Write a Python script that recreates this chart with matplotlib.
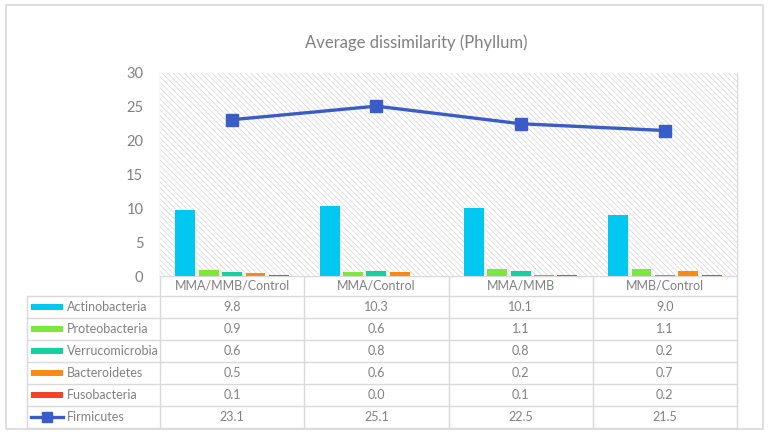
import matplotlib
matplotlib.use("Agg")
import matplotlib.pyplot as plt
from matplotlib.patches import Rectangle
from matplotlib.lines import Line2D
import numpy as np

categories = ["MMA/MMB/Control", "MMA/Control", "MMA/MMB", "MMB/Control"]
bar_series = ["Actinobacteria", "Proteobacteria", "Verrucomicrobia", "Bacteroidetes", "Fusobacteria"]
actinobacteria = [9.8, 10.3, 10.1, 9.0]
proteobacteria = [0.9, 0.6, 1.1, 1.1]
verrucomicrobia = [0.6, 0.8, 0.8, 0.2]
bacteroidetes = [0.5, 0.6, 0.2, 0.7]
fusobacteria = [0.1, 0.0, 0.1, 0.2]
firmicutes = [23.1, 25.1, 22.5, 21.5]
line_series = "Firmicutes"
yticks = [0, 5, 10, 15, 20, 25, 30]
title = "Average dissimilarity (Phyllum)"

bar_values = [actinobacteria, proteobacteria, verrucomicrobia, bacteroidetes, fusobacteria]
bar_colors = ["#00C8F0", "#7CE83C", "#14D2A0", "#FF8A12", "#F04424"]
line_color = "#3A5CC8"
grid_c = "#D9D9D9"
text_c = "#808080"

plt.rcParams['font.family'] = ['Lato', 'DejaVu Sans']
plt.rcParams['hatch.color'] = '#D4D4D4'
plt.rcParams['hatch.linewidth'] = 0.5

W, H = 768, 433
fig = plt.figure(figsize=(W / 100, H / 100), dpi=100)

def px_rect(l, t, r, b):
    return [l / W, 1 - b / H, (r - l) / W, (b - t) / H]

ov = fig.add_axes([0, 0, 1, 1])
ov.set_xlim(0, W)
ov.set_ylim(H, 0)
ov.axis('off')
ov.add_patch(Rectangle((6, 5), 757, 424, fill=False, edgecolor=grid_c, lw=1.2))

L, R, T, B = 160, 737, 73, 276
ax = fig.add_axes(px_rect(L, T, R, B))
ax.set_xlim(-0.5, len(categories) - 0.5)
ax.set_ylim(0, 30)
ax.set_facecolor('white')
for s in ax.spines.values():
    s.set_visible(False)
ax.add_patch(Rectangle((0, 0), 1, 1, transform=ax.transAxes, facecolor='white',
                       hatch='\\' * 6, edgecolor='#D4D4D4', lw=0, zorder=0))
ax.set_xticks([])
ax.set_yticks(yticks)
ax.tick_params(axis='y', length=0, pad=12, labelsize=10.5, labelcolor=text_c)

x = np.arange(len(categories))
bw = 0.138
step = 0.162
n = len(bar_series)
for i, (vals, col) in enumerate(zip(bar_values, bar_colors)):
    ax.bar(x + (i - (n - 1) / 2) * step, vals, width=bw, color=col, zorder=3)
ax.plot(x, firmicutes, color=line_color, lw=2.4, marker='s', markersize=8.5, zorder=4)

fig.text(416 / W, 1 - 43 / H, title, ha='center', va='center', fontsize=12,
         color=text_c)

col_edges = [L + (R - L) * k / len(categories) for k in range(len(categories) + 1)]
tab_left = 27
row_edges = [276, 296, 318, 340, 362, 384, 406, 428]
for xe in col_edges:
    ov.plot([xe, xe], [T, row_edges[-1]], color=grid_c, lw=1.0, zorder=1)
ov.plot([tab_left, tab_left], [row_edges[1], row_edges[-1]], color=grid_c, lw=1.0)
ov.plot([L, R], [row_edges[0], row_edges[0]], color=grid_c, lw=1.0)
for ye in row_edges[1:]:
    ov.plot([tab_left, R], [ye, ye], color=grid_c, lw=1.0)

fs = 9
for j, c in enumerate(categories):
    cx = (col_edges[j] + col_edges[j + 1]) / 2
    ov.text(cx, (row_edges[0] + row_edges[1]) / 2, c, ha='center', va='center',
            fontsize=fs, color=text_c)

rows = list(zip(bar_series, bar_values, bar_colors)) + [(line_series, firmicutes, line_color)]
for r, (name, vals, col) in enumerate(rows):
    yc = (row_edges[r + 1] + row_edges[r + 2]) / 2
    if name == line_series:
        ov.add_line(Line2D([31, 63], [yc, yc], color=col, lw=2.4))
        ov.plot([47], [yc], marker='s', color=col, markersize=7)
    else:
        ov.add_patch(Rectangle((31, yc - 3), 32, 6, facecolor=col, edgecolor='none'))
    ov.text(67, yc, name, ha='left', va='center', fontsize=fs, color=text_c)
    for j, v in enumerate(vals):
        cx = (col_edges[j] + col_edges[j + 1]) / 2
        ov.text(cx, yc, f"{v:.1f}", ha='center', va='center', fontsize=fs,
                color=text_c)

fig.savefig("out.png", dpi=100)
